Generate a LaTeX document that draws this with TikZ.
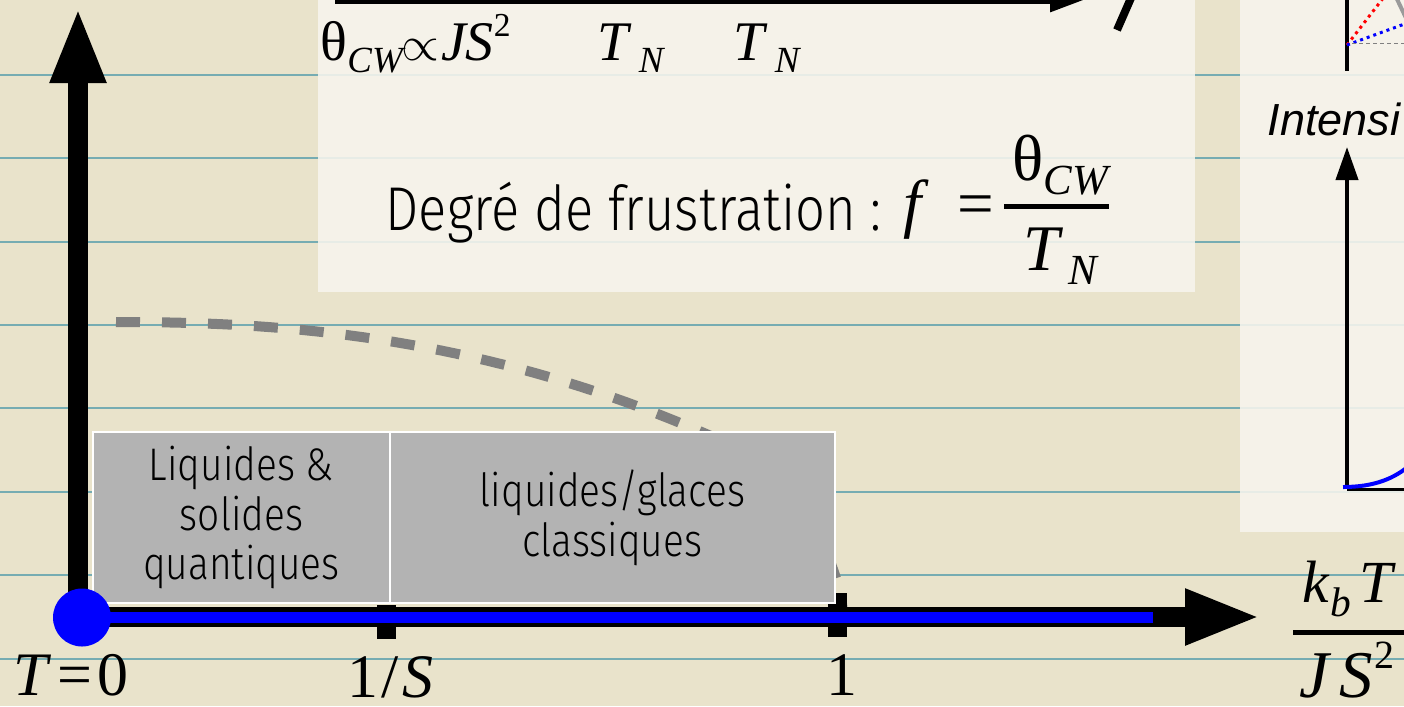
\documentclass[tikz,border=0pt]{standalone}
\usepackage{fontspec}
\setmainfont{Liberation Serif}
\newfontfamily\thinfont[FakeStretch=0.85]{Fira Sans Light}
\newfontfamily\arialfont{Liberation Sans}
\usetikzlibrary{arrows.meta,positioning,calc}

\definecolor{paper}{RGB}{233,227,203}
\definecolor{ruleteal}{RGB}{118,172,178}
\definecolor{panelwhite}{RGB}{247,245,238}
\definecolor{regimegrey}{RGB}{179,179,179}
\definecolor{curvegrey}{RGB}{128,128,128}
\definecolor{pureblue}{RGB}{0,0,255}
\definecolor{purered}{RGB}{255,0,0}

\newcommand{\lowsub}[1]{\raisebox{-0.23em}{\scalebox{0.66}{\itshape #1}}}
\newcommand{\highsup}[1]{\raisebox{0.42em}{\scalebox{0.6}{#1}}}

\tikzset{
  panel/.style={fill=panelwhite, fill opacity=0.88},
  rule/.style={draw=ruleteal, line width=0.2mm},
  regime/.style={fill=regimegrey, draw=white, line width=0.15mm, inner sep=0pt,
                 align=center, font=\thinfont\fontsize{13}{14.2}\selectfont},
  formula/.style={anchor=base west, inner sep=0pt},
  axis/.style={line width=2mm, -{Triangle[length=7.6mm, width=5.1mm]}},
  thinaxis/.style={line width=0.4mm, -{Triangle[length=3.3mm, width=2.2mm]}},
  tickmark/.style={fill=black, inner sep=0pt},
  phase/.style={draw=curvegrey, line width=1mm, dash pattern=on 2.4mm off 2.2mm},
  dotline/.style={line width=0.3mm, dash pattern=on 0.3mm off 0.4mm}
}

\begin{document}
\begin{tikzpicture}[x=0.1mm, y=-0.1mm]
  \useasboundingbox (0,0) rectangle (1404,706);
  \clip (0,0) rectangle (1404,706);
  % paper and ruled lines
  \fill[paper] (0,0) rectangle (1404,706);
  \foreach \ry in {75,158,242,325,408,492,575,659}
    \draw[rule] (0,\ry) -- (1404,\ry);
  \fill[panel] (318,-5) rectangle (1195,292);
  \fill[panel] (1240,-5) rectangle (1410,532);

  % top panel
  \coordinate (topL) at (335,-6);
  \coordinate (topR) at (1103,-6);
  \draw[line width=2mm, -{Triangle[length=5.3mm, width=3.2mm]}] (topL) -- (topR);
  \coordinate (strokeA) at (1117,30);
  \coordinate (strokeB) at (1131,-2);
  \draw[line width=0.8mm] (strokeA) -- (strokeB);
  \node[formula, font=\fontsize{15.9}{18}\selectfont] (thetacw) at (320,60)
    {θ\lowsub{CW}\kern-0.03em\scalebox{0.8}{$\propto$}\kern0.04em\textit{JS}\highsup{2}};
  \node[formula, font=\fontsize{15.9}{18}\selectfont] (tnone) at (597,60) {\textit{T}\kern0.12em\lowsub{N}};
  \node[formula, font=\fontsize{15.9}{18}\selectfont] (tntwo) at (733,60) {\textit{T}\kern0.12em\lowsub{N}};
  \node[formula, font=\thinfont\fontsize{17.6}{20}\selectfont] (degre) at (385,230) {Degré de frustration :};
  \node[formula, font=\fontsize{18.5}{20}\selectfont] (fvar) at (903,225) {\textit{f}};
  \node[formula, font=\fontsize{18.5}{20}\selectfont] (eqsign) at (957,225) {=};
  \node[formula, font=\fontsize{18.5}{20}\selectfont] (numer) at (1012,180) {θ\lowsub{CW}};
  \node[formula, font=\fontsize{18.5}{20}\selectfont] (denom) at (1023,270) {\textit{T}\kern0.08em\lowsub{N}};
  \coordinate (barL) at (1004,206.5);
  \coordinate (barR) at (1109,206.5);
  \draw[line width=0.5mm] (barL) -- (barR);

  % phase boundary
  \draw[phase] plot[domain=116:720, samples=40] (\x, {322+106.3*pow((\x-115)/578,2.3)})
    .. controls (790,470) and (838,555) .. (843,612);

  % ticks and regimes
  \node[tickmark, minimum width=1.9mm, minimum height=3.4mm] (tickS) at (386.5,622) {};
  \node[tickmark, minimum width=1.9mm, minimum height=4.4mm] (tickone) at (837.5,615) {};
  \node[regime, minimum width=29.7mm, minimum height=17.1mm] (quant) at (241.5,517.5)
    {Liquides \&\\solides\\quantiques};
  \node[regime, minimum width=44.5mm, minimum height=17.1mm] (classic) at (612.5,517.5)
    {liquides/glaces\\classiques};

  % axes
  \coordinate (origin) at (78,617);
  \coordinate (ytip) at (78,7);
  \coordinate (xstart) at (69,617);
  \coordinate (xtip) at (1261,617);
  \draw[axis] (origin) -- (ytip);
  \draw[axis] (xstart) -- (xtip);
  \coordinate (bluestart) at (95,617.5);
  \coordinate (blueend) at (1153,617.5);
  \draw[pureblue, line width=1.1mm] (bluestart) -- (blueend);
  \node[circle, fill=pureblue, minimum size=5.8mm, inner sep=0pt] (zeroT) at (82,617.5) {};

  % axis labels
  \node[formula, font=\fontsize{17.6}{20}\selectfont] (tzero) at (13,695) {\textit{T}\kern0.1em=\kern0.08em0};
  \node[formula, font=\fontsize{17.6}{20}\selectfont] (invS) at (347,697) {1\kern0.05em/\kern0.05em\textit{S}};
  \node[formula, font=\fontsize{17.6}{20}\selectfont] (one) at (826,695) {1};
  \node[formula, font=\fontsize{17}{20}\selectfont] (kbt) at (1302,602) {\textit{k}\scalebox{1.05}{\lowsub{b}}\kern0.14em\textit{T}};
  \coordinate (fracL) at (1293,632);
  \coordinate (fracR) at (1410,632);
  \draw[line width=0.5mm] (fracL) -- (fracR);
  \node[formula, font=\fontsize{19}{20}\selectfont] (jsq) at (1299,697) {\textit{J}\kern0.12em\textit{S}\kern0.02em\highsup{2}};

  % right panel
  \node[formula, font=\arialfont\itshape\fontsize{12.8}{14}\selectfont] (intens) at (1267,135) {Intensi};
  \coordinate (rorigin) at (1347,489);
  \coordinate (rtop) at (1347,147);
  \coordinate (rright) at (1410,489);
  \draw[thinaxis] (rorigin) -- (rtop);
  \draw[line width=0.3mm] (rorigin) -- (rright);
  \coordinate (specA) at (1343,487);
  \coordinate (specB) at (1410,465);
  \draw[pureblue, line width=0.4mm] (specA) .. controls (1375,487) and (1395,478) .. (specB);
  \coordinate (upA) at (1347,-5);
  \coordinate (upB) at (1347,71);
  \draw[line width=0.4mm] (upA) -- (upB);
  \coordinate (cross) at (1347,45);
  \coordinate (redend) at (1384,-3);
  \coordinate (bluedotend) at (1410,22);
  \coordinate (greyA) at (1352,43);
  \coordinate (greyB) at (1410,43);
  \coordinate (slantA) at (1396,-3);
  \coordinate (slantB) at (1406,18);
  \draw[purered, dotline] (cross) -- (redend);
  \draw[pureblue, dotline] (cross) -- (bluedotend);
  \draw[curvegrey, line width=0.1mm, dash pattern=on 0.4mm off 0.3mm] (greyA) -- (greyB);
  \draw[curvegrey!80, line width=0.4mm] (slantA) -- (slantB);
\end{tikzpicture}
\end{document}
